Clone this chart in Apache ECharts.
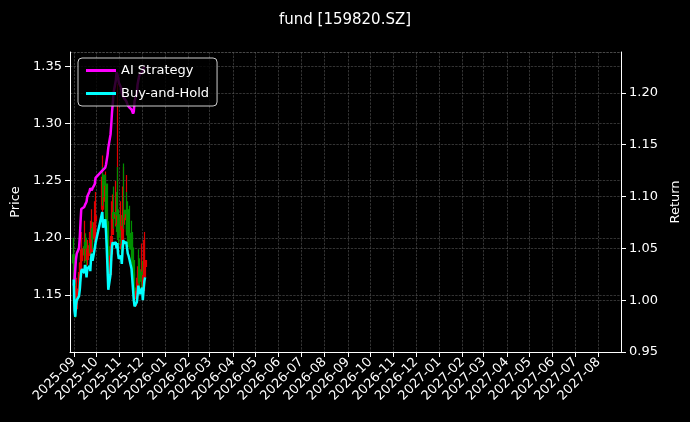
<!DOCTYPE html>
<html>
<head>
<meta charset="utf-8">
<script src="https://cdn.jsdelivr.net/npm/echarts@6/dist/echarts.min.js"></script>
<style>
  html, body { margin: 0; padding: 0; background: #000; }
  #chart { width: 690px; height: 422px; }
</style>
</head>
<body>
<div id="chart"></div>
<script>
// trading days
const dates = [
  '2025-09-01','2025-09-02','2025-09-03','2025-09-04','2025-09-05','2025-09-08','2025-09-09','2025-09-10','2025-09-11','2025-09-12',
  '2025-09-15','2025-09-16','2025-09-17','2025-09-18','2025-09-19','2025-09-22','2025-09-23','2025-09-24','2025-09-25','2025-09-26',
  '2025-09-29','2025-09-30',
  '2025-10-09','2025-10-10','2025-10-13','2025-10-14','2025-10-15','2025-10-16','2025-10-17','2025-10-20','2025-10-21','2025-10-22',
  '2025-10-23','2025-10-24','2025-10-27','2025-10-28','2025-10-29','2025-10-30','2025-10-31',
  '2025-11-03','2025-11-04','2025-11-05','2025-11-06','2025-11-07','2025-11-10','2025-11-11','2025-11-12','2025-11-13','2025-11-14',
  '2025-11-17','2025-11-18','2025-11-19','2025-11-20','2025-11-21','2025-11-24','2025-11-25','2025-11-26','2025-11-27','2025-11-28',
  '2025-12-01','2025-12-02','2025-12-03','2025-12-04','2025-12-05'
];

// open, close, low, high
const ohlc = [
  [1.185,1.178,1.168,1.200],[1.176,1.143,1.140,1.180],[1.145,1.137,1.130,1.152],[1.138,1.149,1.134,1.158],[1.150,1.155,1.144,1.165],
  [1.156,1.160,1.150,1.170],[1.162,1.167,1.155,1.178],[1.168,1.178,1.162,1.190],[1.180,1.187,1.172,1.205],[1.188,1.190,1.180,1.200],
  [1.192,1.185,1.178,1.198],[1.184,1.194,1.180,1.215],[1.196,1.191,1.184,1.204],[1.193,1.180,1.172,1.200],[1.181,1.190,1.176,1.198],
  [1.191,1.193,1.184,1.205],[1.195,1.187,1.178,1.202],[1.188,1.201,1.184,1.215],[1.203,1.207,1.196,1.225],[1.208,1.199,1.190,1.214],
  [1.200,1.213,1.196,1.232],[1.215,1.219,1.205,1.240],
  [1.225,1.253,1.222,1.272],[1.255,1.236,1.228,1.262],[1.232,1.245,1.225,1.258],[1.247,1.231,1.222,1.255],[1.230,1.213,1.205,1.238],
  [1.214,1.190,1.184,1.222],[1.192,1.167,1.160,1.200],[1.168,1.184,1.164,1.198],[1.186,1.201,1.180,1.215],[1.203,1.216,1.196,1.232],
  [1.215,1.220,1.205,1.238],[1.222,1.217,1.208,1.245],[1.218,1.220,1.210,1.250],[1.222,1.213,1.205,1.240],[1.212,1.219,1.200,1.335],
  [1.220,1.207,1.198,1.262],[1.208,1.201,1.190,1.225],
  [1.200,1.205,1.190,1.232],[1.206,1.195,1.186,1.220],[1.194,1.210,1.188,1.245],[1.212,1.222,1.205,1.262],[1.224,1.218,1.208,1.265],
  [1.216,1.220,1.205,1.255],[1.222,1.213,1.202,1.240],[1.214,1.207,1.195,1.232],[1.206,1.205,1.192,1.225],[1.204,1.201,1.190,1.228],
  [1.202,1.190,1.180,1.215],[1.191,1.178,1.170,1.205],[1.180,1.167,1.160,1.192],[1.168,1.155,1.148,1.180],[1.156,1.148,1.142,1.170],
  [1.147,1.153,1.140,1.165],[1.154,1.161,1.148,1.175],[1.160,1.171,1.155,1.185],[1.172,1.167,1.160,1.190],[1.168,1.162,1.155,1.182],
  [1.160,1.169,1.154,1.195],[1.170,1.155,1.148,1.180],[1.154,1.167,1.150,1.198],[1.166,1.176,1.160,1.205],[1.175,1.180,1.168,1.200]
];

const aiStrategy = [
  1.014,1.020,1.030,1.040,1.045,1.050,1.060,1.075,1.088,1.088,1.090,1.092,1.092,1.095,1.100,1.105,1.108,1.108,1.106,1.108,1.112,1.118,
  1.125,1.125,1.128,1.131,1.131,1.140,1.147,1.160,1.170,1.182,1.190,1.200,1.212,1.220,1.218,1.215,1.210,
  1.205,1.200,1.198,1.196,1.195,1.192,1.190,1.188,1.188,1.186,1.184,1.182,1.180,1.182,1.192,1.200,1.208,1.212,1.216,1.218,
  1.220,1.222,1.224,1.224,1.225
];

const buyHold = [
  1.020,0.990,0.984,0.995,1.000,1.004,1.010,1.020,1.028,1.030,1.026,1.034,1.031,1.022,1.030,1.033,1.028,1.040,1.045,1.038,1.050,1.055,
  1.085,1.070,1.078,1.066,1.050,1.030,1.010,1.025,1.040,1.052,1.056,1.054,1.056,1.050,1.055,1.045,1.040,
  1.043,1.035,1.048,1.058,1.055,1.056,1.050,1.045,1.043,1.040,1.030,1.020,1.010,1.000,0.994,0.998,1.005,1.014,1.010,1.006,
  1.012,1.000,1.010,1.018,1.022
];

const axisColor = '#ffffff';
const gridLine = { show: true, lineStyle: { color: '#555', type: 'dashed', width: 0.6 } };
const font = 'DejaVu Sans';

const chart = echarts.init(document.getElementById('chart'));
chart.setOption({
  backgroundColor: '#000',
  animation: false,
  textStyle: { fontFamily: font },
  title: {
    text: 'fund [159820.SZ]', left: 'center', top: 8,
    textStyle: { color: '#fff', fontSize: 15, fontWeight: 'normal', fontFamily: font }
  },
  legend: {
    left: 78, top: 58, orient: 'vertical',
    data: ['AI Strategy', 'Buy-and-Hold'],
    icon: 'rect', itemWidth: 30, itemHeight: 3, itemGap: 10,
    backgroundColor: 'rgba(0,0,0,0.8)', borderColor: '#ccc', borderWidth: 1, borderRadius: 4,
    padding: [6, 8, 6, 8],
    textStyle: { color: '#fff', fontSize: 13, fontFamily: font }
  },
  grid: { left: 70, right: 69, top: 52, bottom: 70 },
  xAxis: {
    type: 'time',
    min: '2025-08-27', max: '2027-08-31',
    minInterval: 28 * 86400000, maxInterval: 31 * 86400000,
    axisLine: { lineStyle: { color: axisColor } },
    axisTick: { lineStyle: { color: axisColor } },
    axisLabel: {
      color: '#fff', fontSize: 13, rotate: 45, hideOverlap: false,
      formatter: v => { const d = new Date(v); return d.getFullYear() + '-' + String(d.getMonth() + 1).padStart(2, '0'); }
    },
    splitLine: gridLine
  },
  yAxis: [
    {
      type: 'value', name: 'Price', nameLocation: 'middle', nameGap: 48,
      nameTextStyle: { color: '#fff', fontSize: 13 },
      min: 1.10, max: 1.3627, interval: 0.05,
      axisLine: { show: true, lineStyle: { color: axisColor } },
      axisTick: { show: true, lineStyle: { color: axisColor } },
      axisLabel: { color: '#fff', fontSize: 13, showMinLabel: false, showMaxLabel: false, formatter: v => v.toFixed(2) },
      splitLine: gridLine
    },
    {
      type: 'value', name: 'Return', nameLocation: 'middle', nameGap: 44, position: 'right',
      nameTextStyle: { color: '#fff', fontSize: 13 },
      min: 0.95, max: 1.2395, interval: 0.05,
      axisLine: { show: true, lineStyle: { color: axisColor } },
      axisTick: { show: true, lineStyle: { color: axisColor } },
      axisLabel: { color: '#fff', fontSize: 13, showMaxLabel: false, formatter: v => v.toFixed(2) },
      splitLine: gridLine
    }
  ],
  series: [
    {
      name: 'Price', type: 'candlestick', yAxisIndex: 0,
      data: dates.map((d, i) => [d, ...ohlc[i]]),
      barWidth: 2.5,
      itemStyle: {
        color: '#e00000', color0: '#009000',
        borderColor: '#e00000', borderColor0: '#009000',
        borderWidth: 1.2
      },
      z: 1
    },
    {
      name: 'AI Strategy', type: 'line', yAxisIndex: 1,
      data: dates.map((d, i) => [d, aiStrategy[i]]),
      showSymbol: false, lineStyle: { color: '#ff00ff', width: 2.5 }, itemStyle: { color: '#ff00ff' }, z: 3
    },
    {
      name: 'Buy-and-Hold', type: 'line', yAxisIndex: 1,
      data: dates.map((d, i) => [d, buyHold[i]]),
      showSymbol: false, lineStyle: { color: '#00ffff', width: 2.5 }, itemStyle: { color: '#00ffff' }, z: 3
    }
  ]
});
</script>
</body>
</html>
